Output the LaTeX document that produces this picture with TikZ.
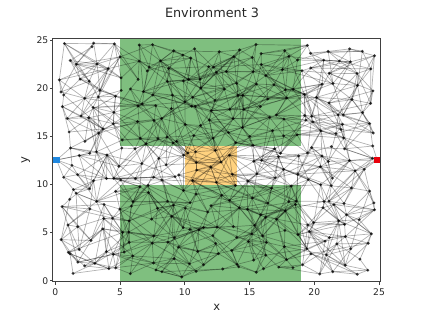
\documentclass[tikz,border=0pt]{standalone}
\usepackage{fontspec}
\setmainfont{DejaVu Sans}
\usepackage{xcolor}

\definecolor{zonegreen}{HTML}{7FBF7F}
\definecolor{gateorange}{HTML}{FFD27F}
\definecolor{startblue}{HTML}{1F88E0}
\definecolor{goalred}{HTML}{E8000B}

\begin{document}
\begin{tikzpicture}[
    x=12.95pt, y=9.62pt,
    zone/.style={fill=zonegreen, draw=none},
    gate/.style={fill=gateorange, draw=none},
    link/.style={black, opacity=0.3, line width=0.7pt},
    sample/.style={circle, fill=black, opacity=0.75, inner sep=0pt, minimum size=3.2pt},
    startmark/.style={rectangle, fill=startblue, inner sep=0pt, minimum size=6.5pt},
    goalmark/.style={rectangle, fill=goalred, inner sep=0pt, minimum size=6.5pt},
    spine/.style={black!75, line width=0.8pt},
    ticklabel/.style={font=\fontsize{9.2}{11}\selectfont, text=black!85, inner sep=0pt},
    axislabel/.style={font=\fontsize{11.5}{14}\selectfont, text=black!85, inner sep=0pt},
]
\useasboundingbox ([xshift=-55.3pt, yshift=-36.3pt]0,0) rectangle ++(423pt,317pt);

% Sample positions (jittered grid)
\pgfmathsetseed{17}
\foreach \a in {0,...,18}{
  \foreach \b in {0,...,18}{
    \pgfmathsetmacro\px{0.3+(\a+rnd)*24.4/19}
    \pgfmathsetmacro\py{0.3+(\b+rnd)*24.4/19}
    \coordinate (p-\a-\b) at (\px,\py);
  }
}
\coordinate (start) at (0.1,12.55);
\coordinate (goal) at (24.85,12.55);

% Regions
\fill[zone] (5,14) rectangle (19,25.15);
\fill[zone] (5,-0.08) rectangle (19,10);
\fill[gate] (10,10) rectangle (14,14);

% Roadmap edges
\foreach \a in {0,...,18}{
  \foreach \b in {0,...,18}{
    \foreach \da/\db/\pr in {1/0/0.75, 0/1/0.75, 1/1/0.55, 1/-1/0.55, 2/0/0.35, 0/2/0.35,
        2/1/0.25, 1/2/0.25, 2/-1/0.25, 1/-2/0.25, 2/2/0.1, 2/-2/0.1, 3/0/0.1, 0/3/0.1,
        3/1/0.08, 1/3/0.08, 3/-1/0.08, 1/-3/0.08}{
      \pgfmathtruncatemacro\na{\a+\da}
      \pgfmathtruncatemacro\nb{\b+\db}
      \pgfmathsetmacro\roll{rnd}
      \ifnum\na<19 \ifnum\nb>-1 \ifnum\nb<19
        \ifdim\roll pt<\pr pt
          \draw[link] (p-\a-\b) -- (p-\na-\nb);
        \fi
      \fi\fi\fi
    }
  }
}
\foreach \b in {8,9,10}{
  \draw[link] (start) -- (p-0-\b);
  \draw[link] (start) -- (p-1-\b);
  \draw[link] (goal) -- (p-18-\b);
  \draw[link] (goal) -- (p-17-\b);
}

% Samples
\foreach \a in {0,...,18}{
  \foreach \b in {0,...,18}{
    \node[sample] (s-\a-\b) at (p-\a-\b) {};
  }
}
\node[startmark] (start-mark) at (start) {};
\node[goalmark] (goal-mark) at (goal) {};

% Axes
\draw[spine] (-0.2,-0.08) rectangle (25.13,25.15);
\foreach \t in {0,5,...,25}{
  \draw[spine] (\t,-0.08) -- ++(0,-3.2pt);
  \node[ticklabel, anchor=base] (xt-\t) at ([yshift=-14.6pt]\t,0) {\t};
  \draw[spine] (-0.2,\t) -- ++(-3.2pt,0);
  \node[ticklabel, anchor=east] (yt-\t) at ([xshift=-6.8pt]0,\t) {\t};
}
\node[axislabel, anchor=base] (xlabel) at ([xshift=161.4pt, yshift=-29.3pt]0,0) {x};
\node[axislabel, rotate=90] (ylabel) at ([xshift=-29.6pt, yshift=120.7pt]0,0) {y};
\node[font=\fontsize{12.8}{15}\selectfont, text=black!85, anchor=base, inner sep=0pt] (title)
  at ([xshift=156.7pt, yshift=263.4pt]0,0) {Environment 3};
\end{tikzpicture}
\end{document}
